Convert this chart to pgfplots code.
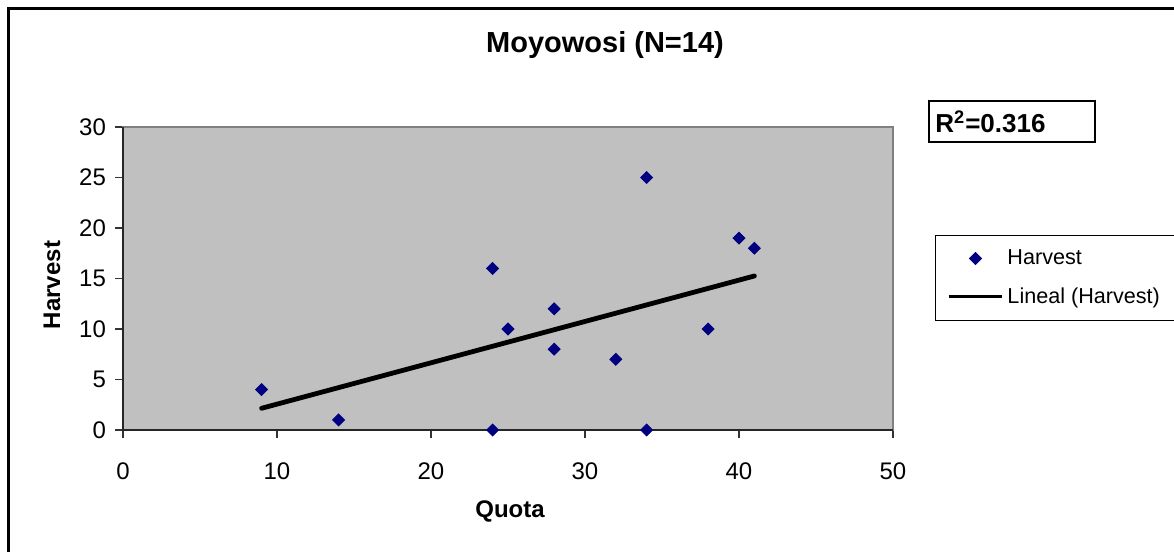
\documentclass[border=0pt]{standalone}
\usepackage{fontspec}
\setmainfont{Liberation Sans}
\usepackage{pgfplots}
\pgfplotsset{compat=1.18}
\definecolor{plotgray}{HTML}{C0C0C0}
\definecolor{framegray}{HTML}{808080}
\definecolor{navyblue}{HTML}{000080}
\pgfplotsset{
  markleg/.style={legend image code/.code={\draw[mark repeat=2,mark phase=2,##1] plot coordinates {(0pt,0pt) (13.25pt,0pt) (26.5pt,0pt)};}},
  lineleg/.style={legend image code/.code={\draw[##1, line width=1.5pt, line cap=butt] (0pt,0pt) -- (26.5pt,0pt);}},
}
\begin{document}
\begin{tikzpicture}
\path[use as bounding box] (0pt,0pt) rectangle (587pt,276pt);
\fill[white] (0pt,0pt) rectangle (587pt,276pt);
\draw[line width=1.5pt] (4pt,-10pt) -- (4pt,271.5pt) -- (600pt,271.5pt);
\begin{axis}[
  at={(61.5pt,61pt)}, anchor=south west,
  scale only axis, width=385pt, height=151.5pt,
  xmin=0, xmax=50, ymin=0, ymax=30,
  xtick={0,10,...,50}, ytick={0,5,...,30},
  tick align=outside, tick pos=left,
  major tick length=4pt,
  every tick/.style={black!80, line width=0.6pt},
  axis background/.style={fill=plotgray},
  axis line style={framegray, line width=0.8pt},
  tick label style={font=\fontsize{12}{14}\selectfont},
  /pgf/number format/assume math mode=true,
  xticklabel style={yshift=-9pt},
  yticklabel style={xshift=-1pt},
  clip=false,
  legend style={at={(1.05455,0.6436)}, anchor=north west, draw=black, line width=0.5pt, fill=white,
    font=\fontsize{10.8}{12}\selectfont, inner xsep=6pt, inner ysep=5pt, row sep=6pt},
  legend cell align=left,
]
\addplot[only marks, mark=square*, mark size=2.1pt,
  mark options={rotate=45, fill=navyblue, draw=navyblue}, markleg]
coordinates {
(9,4) (14,1) (24,16) (24,0) (25,10) (28,12) (28,8) (32,7) (34,25) (34,0) (38,10) (40,19) (41,18)
};
\addlegendentry{Harvest}
\addplot[black, line width=2.4pt, line cap=round, lineleg]
coordinates {(9,2.15) (41,15.25)};
\addlegendentry{Lineal (Harvest)\hspace*{6pt}}
\draw[black!85, line width=0.8pt] (rel axis cs:0,1) -- (rel axis cs:0,0) -- (rel axis cs:1,0);
\end{axis}
\node[font=\bfseries\fontsize{14.5}{16}\selectfont] at (302.5pt,253.5pt) {Moyowosi (N=14)};
\node[font=\bfseries\fontsize{12}{14}\selectfont, rotate=90] at (26pt,133.5pt) {Harvest};
\node[font=\bfseries\fontsize{12}{14}\selectfont] at (255pt,20.5pt) {Quota};
\draw[line width=1pt] (464.5pt,205pt) rectangle (547.5pt,225.5pt);
\node[font=\bfseries\fontsize{13}{15}\selectfont, anchor=west, inner sep=0pt] at (467.5pt,215pt) {R\textsuperscript{2}=0.316};
\end{tikzpicture}
\end{document}
